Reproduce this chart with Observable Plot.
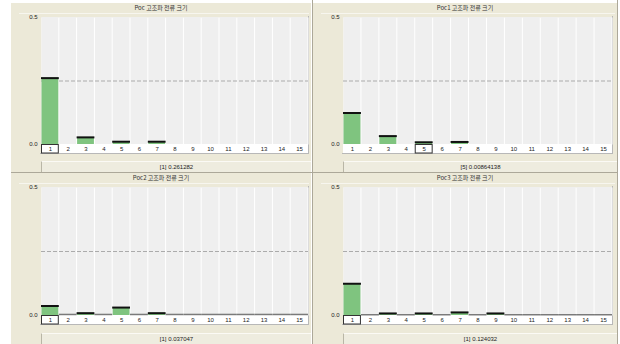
<!DOCTYPE html>
<html>
<head>
<meta charset="utf-8">
<script src="https://cdn.jsdelivr.net/npm/d3@7"></script>
<script src="https://cdn.jsdelivr.net/npm/@observablehq/plot@0.6"></script>
<style>
  html, body { margin: 0; padding: 0; background: #fff; }
  #root { position: relative; width: 620px; height: 344px; background: #fff; overflow: hidden;
          font-family: "Liberation Sans", Arial, sans-serif; color: #222; }
  .panel { position: absolute; background: #ece9d8; }
  .title { position: absolute; text-align: center; font-family: "Noto Sans CJK KR", "Liberation Sans", sans-serif;
           font-size: 6px; line-height: 10px; color: #333; }
  .titleline { position: absolute; height: 1px; background: #f7f6ef; }
  .footer { position: absolute; background: #eeecdf; border-left: 1px solid #b9b6a6; border-top: 1px solid #fbfaf5;
            text-align: center; font-size: 6px; line-height: 10px; color: #222; }
  .labelrow { position: absolute; background: #fff; }
  .plotborder { position: absolute; border-right: 1px solid #b8b8b8; border-bottom: 1px solid #b8b8b8; box-sizing: border-box; }
  .chart { position: absolute; }
  .vline { position: absolute; width: 1px; background: #aca899; }
  .hline { position: absolute; height: 1px; background: #aca899; }
</style>
</head>
<body>
<div id="root"></div>
<script>
// ---- data ----
const harmonics = ["1","2","3","4","5","6","7","8","9","10","11","12","13","14","15"];
const titles = ["Poc 고조파 전류 크기", "Poc1 고조파 전류 크기", "Poc2 고조파 전류 크기", "Poc3 고조파 전류 크기"];
const pocValues  = [0.261282, 0, 0.028, 0, 0.011, 0, 0.011, 0, 0, 0, 0, 0, 0, 0, 0];
const poc1Values = [0.124, 0, 0.033, 0, 0.00864138, 0, 0.010, 0, 0, 0, 0, 0, 0, 0, 0];
const poc2Values = [0.037047, 0.004, 0.009, 0.004, 0.031, 0.004, 0.009, 0.004, 0.004, 0.004, 0.004, 0.004, 0.004, 0.004, 0.004];
const poc3Values = [0.124032, 0.003, 0.008, 0.003, 0.008, 0.003, 0.012, 0.003, 0.008, 0.003, 0.003, 0.003, 0.003, 0.003, 0.003];
const selectedHarmonic = ["1", "5", "1", "1"];
const limitValue = 0.25;
const yTicks = [0, 0.5];
const yDomain = [0, 0.5];

// ---- layout ----
const layout = [
  {box: [11, 3, 300, 169], plot: [41, 308, 17, 144], footer: [161, 11]},
  {box: [313, 3, 304, 169], plot: [343, 612, 17, 144], footer: [161, 11]},
  {box: [11, 173, 300, 171], plot: [41, 308, 187, 315], footer: [333, 11]},
  {box: [313, 173, 304, 171], plot: [343, 612, 187, 315], footer: [333, 11]}
];
const seriesList = [pocValues, poc1Values, poc2Values, poc3Values];

const root = document.getElementById("root");
function addDiv(cls, l, t, w, h, text) {
  const d = document.createElement("div");
  d.className = cls;
  d.style.left = l + "px"; d.style.top = t + "px";
  if (w != null) d.style.width = w + "px";
  if (h != null) d.style.height = h + "px";
  if (text != null) d.textContent = text;
  root.appendChild(d);
  return d;
}

layout.forEach((L, i) => {
  const [bx, by, bw, bh] = L.box;
  const [x0, x1, y0, y1] = L.plot;
  const values = seriesList[i];
  const data = harmonics.map((h, j) => ({h, v: values[j]}));
  const sel = selectedHarmonic[i];

  addDiv("panel", bx, by, bw, bh);
  addDiv("title", bx, by, bw, 10, titles[i]);
  addDiv("titleline", bx + 8, by + 10, bw - 10, 1);
  addDiv("labelrow", x0, y1, x1 - x0, 9);
  addDiv("plotborder", x0 - 1, y0 - 1, x1 - x0 + 2, y1 - y0 + 11);

  const mL = 30, mR = 2, mT = 5, mB = 10;
  const width = (x1 - x0) + mL + mR;
  const height = (y1 - y0) + mT + mB;

  const chart = Plot.plot({
    width, height,
    marginLeft: mL, marginRight: mR, marginTop: mT, marginBottom: mB,
    style: {background: "transparent", fontFamily: "Liberation Sans, Arial, sans-serif", fontSize: "6px", color: "#222", overflow: "visible"},
    x: {type: "band", domain: harmonics, padding: 0, round: false, tickSize: 0, tickPadding: 2, label: null},
    y: {domain: yDomain, ticks: yTicks, tickSize: 0, tickPadding: 4, tickFormat: d3.format(".1f"), label: null},
    marks: [
      Plot.frame({fill: "#ffffff", stroke: null}),
      Plot.barY(harmonics, {x: d => d, y1: yDomain[0], y2: yDomain[1], fill: "#efefef", insetLeft: 0.5, insetRight: 0.5}),
      Plot.ruleY([limitValue], {stroke: "#ababab", strokeWidth: 1.2, strokeDasharray: "4,2"}),
      Plot.barY(data, {x: "h", y: "v", fill: "#7fc47f", insetLeft: 0.5, insetRight: 0.5}),
      Plot.tickY(data.filter(d => d.v > 0 && d.v < 0.005), {x: "h", y: "v", stroke: "#7a7a7a", strokeWidth: 1.5}),
      Plot.tickY(data.filter(d => d.v >= 0.005), {x: "h", y: "v", stroke: "#111", strokeWidth: 2})
    ]
  });
  chart.classList.add("chart");
  chart.style.left = (x0 - mL) + "px";
  chart.style.top = (y0 - mT) + "px";
  chart.style.position = "absolute";
  root.appendChild(chart);

  // selected harmonic box
  const xs = chart.scale("x");
  const px = xs.apply(sel);
  d3.select(chart).append("rect")
    .attr("x", px + 0.5).attr("y", height - mB + 0.5)
    .attr("width", xs.bandwidth - 1).attr("height", 8.5)
    .attr("fill", "none").attr("stroke", "#333").attr("stroke-width", 1);

  const [fy, fh] = L.footer;
  const selVal = values[harmonics.indexOf(sel)];
  addDiv("footer", x0, fy, bx + bw - x0 - 1, fh, `[${sel}] ${selVal}`);
});

// panel separators
addDiv("vline", 312, 0, null, 344);
addDiv("hline", 11, 172, 606, null);
addDiv("vline", 617, 0, null, 344);
</script>
</body>
</html>
